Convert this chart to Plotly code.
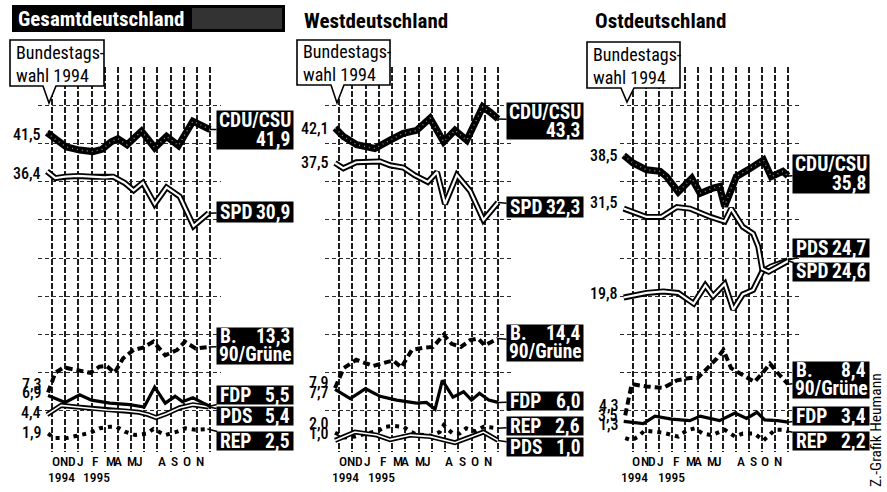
import plotly.graph_objects as go

W, H = 887, 492
FN = "Roboto, Open Sans, Liberation Sans, sans-serif"

# ---------------- data ----------------
panel_titles = ["Gesamtdeutschland", "Westdeutschland", "Ostdeutschland"]
month_labels = ["O", "N", "D", "J", "F", "M", "A", "M", "J", "A", "S", "O", "N"]
year_labels = ["1994", "1995"]
callout_lines = ["Bundestags-", "wahl 1994"]
credit_text = "Z.-Grafik Heumann"

# Gesamtdeutschland
ges_cdu_x = [-0.38, 0.4, 1.1, 2.1, 3.1, 3.8, 4.5, 5.0, 5.7, 6.8, 7.8, 8.7, 9.6, 10.7, 11.3, 12.0]
ges_cdu_y = [41.5, 40.4, 39.6, 39.2, 39.0, 39.3, 40.3, 40.7, 39.9, 41.7, 39.5, 41.0, 39.8, 43.0, 42.5, 41.9]
ges_spd_x = [-0.38, 0.25, 1.0, 2.0, 3.0, 4.0, 4.65, 5.5, 6.2, 6.9, 7.8, 8.7, 9.7, 10.75, 11.9]
ges_spd_y = [36.4, 35.5, 35.7, 35.8, 35.7, 35.6, 35.7, 34.9, 33.9, 34.9, 32.1, 34.3, 33.1, 29.2, 30.9]
ges_gruene_x = [-0.3, 0.25, 0.9, 1.9, 2.9, 3.6, 4.15, 4.75, 5.4, 6.2, 6.9, 7.7, 8.6, 9.5, 10.1, 10.9, 11.9]
ges_gruene_y = [7.3, 9.9, 10.6, 10.2, 9.9, 10.7, 10.8, 9.9, 11.8, 12.9, 13.2, 14.0, 12.2, 12.9, 14.0, 13.1, 13.3]
ges_fdp_x = [-0.3, 1.0, 2.1, 3.0, 4.4, 5.9, 7.0, 7.8, 8.6, 9.35, 9.9, 10.7, 11.5, 12.0]
ges_fdp_y = [6.9, 6.0, 7.0, 6.3, 5.9, 5.7, 5.4, 8.0, 5.9, 6.8, 6.1, 6.6, 5.9, 5.5]
ges_pds_x = [-0.38, 0.7, 1.9, 3.0, 4.2, 5.5, 6.6, 7.3, 7.9, 8.7, 9.7, 10.7, 11.9]
ges_pds_y = [4.4, 5.6, 5.4, 5.2, 5.0, 4.9, 4.7, 4.4, 4.0, 4.5, 5.3, 5.7, 5.4]
ges_rep_x = [-0.3, 0.2, 1.1, 2.0, 2.9, 3.65, 4.4, 4.9, 5.55, 6.3, 7.2, 7.7, 8.6, 9.5, 10.1, 10.9, 11.8]
ges_rep_y = [1.9, 1.3, 1.3, 1.7, 2.0, 2.6, 2.8, 2.8, 2.15, 1.7, 1.9, 2.5, 1.7, 2.15, 2.6, 2.4, 2.5]

# Westdeutschland
west_cdu_x = [-0.3, 0.33, 1.33, 2.7, 3.85, 4.85, 5.86, 6.87, 7.9, 8.75, 9.64, 10.85, 11.4, 12.0]
west_cdu_y = [42.1, 41.0, 39.9, 39.4, 40.5, 41.4, 41.8, 43.4, 40.3, 41.8, 40.5, 44.9, 44.2, 43.3]
west_spd_x = [-0.3, 0.33, 1.3, 3.1, 3.85, 4.85, 5.7, 6.7, 7.4, 8.0, 8.9, 9.9, 10.9, 12.0]
west_spd_y = [37.5, 36.8, 37.6, 37.7, 37.2, 36.9, 35.9, 35.0, 36.3, 32.1, 35.9, 33.8, 30.0, 32.3]
west_gruene_x = [-0.3, 0.35, 1.3, 2.0, 2.6, 3.6, 4.1, 4.7, 5.5, 6.4, 7.1, 7.9, 8.5, 9.2, 9.9, 10.5, 11.0, 12.0]
west_gruene_y = [7.9, 10.5, 11.6, 11.1, 10.8, 11.3, 11.5, 10.6, 12.9, 13.2, 13.3, 14.9, 13.7, 13.3, 14.2, 14.4, 13.5, 14.4]
west_fdp_x = [-0.3, 0.85, 2.0, 3.1, 4.35, 5.85, 6.6, 7.25, 7.8, 8.6, 9.4, 10.0, 10.6, 11.3, 12.0]
west_fdp_y = [7.7, 6.5, 7.8, 6.8, 6.3, 5.9, 6.0, 5.1, 8.9, 6.7, 7.4, 6.3, 7.2, 6.3, 6.0]
west_rep_x = [-0.3, 0.4, 1.2, 2.1, 3.0, 3.5, 4.1, 4.85, 5.4, 5.85, 6.4, 7.0, 7.6, 7.9, 8.25, 8.6, 9.1, 9.6, 10.3, 10.9, 11.5, 12.0]
west_rep_y = [2.0, 1.4, 1.5, 1.9, 2.3, 2.8, 2.9, 2.8, 2.15, 1.8, 1.7, 1.6, 2.1, 3.0, 2.4, 1.9, 1.9, 2.6, 2.2, 2.8, 2.7, 2.6]
west_pds_x = [-0.3, 1.2, 2.85, 3.85, 5.4, 6.9, 8.75, 9.9, 10.9, 12.0]
west_pds_y = [1.0, 2.1, 1.7, 1.1, 1.7, 1.5, 0.7, 1.5, 2.1, 1.0]

# Ostdeutschland
ost_cdu_x = [-0.72, 0.0, 1.05, 2.1, 2.6, 3.5, 4.55, 5.2, 6.2, 6.7, 7.1, 7.6, 8.0, 8.9, 10.1, 10.7, 11.6, 12.0]
ost_cdu_y = [38.5, 37.5, 36.6, 36.4, 35.7, 33.7, 35.5, 33.5, 34.2, 34.4, 31.8, 34.2, 35.7, 36.6, 37.9, 35.7, 36.4, 35.8]
ost_spd_x = [-0.72, 0.3, 1.05, 2.2, 3.4, 4.4, 5.2, 6.0, 7.1, 7.6, 8.5, 9.3, 9.7, 10.0, 10.5, 11.3, 12.0]
ost_spd_y = [31.5, 30.9, 30.4, 30.4, 31.7, 31.5, 30.9, 30.4, 29.8, 31.5, 29.1, 28.2, 26.5, 23.6, 23.2, 24.0, 24.6]
ost_pds_x = [-0.72, 1.05, 2.35, 3.5, 4.7, 5.6, 6.2, 7.1, 7.76, 8.5, 9.3, 10.0, 10.7, 12.0]
ost_pds_y = [19.8, 20.4, 20.6, 20.4, 19.0, 21.4, 20.0, 21.6, 18.2, 20.2, 20.8, 23.2, 23.9, 24.7]
ost_gruene_x = [-0.6, -0.1, 1.05, 2.35, 3.4, 4.4, 5.0, 5.8, 6.5, 7.0, 7.6, 8.5, 9.4, 10.0, 10.6, 11.25, 12.0]
ost_gruene_y = [4.3, 8.4, 8.1, 7.9, 8.9, 9.2, 9.2, 10.5, 11.8, 12.9, 10.5, 9.6, 8.7, 9.8, 11.1, 9.8, 8.4]
ost_fdp_x = [-0.72, 0.8, 1.7, 3.0, 4.4, 5.2, 6.7, 7.9, 8.8, 9.6, 10.2, 11.2, 12.0]
ost_fdp_y = [3.5, 3.2, 4.2, 3.8, 3.6, 4.2, 3.6, 4.6, 3.9, 4.7, 3.7, 3.6, 3.4]
ost_rep_x = [-0.6, -0.1, 0.4, 0.9, 2.35, 3.0, 3.5, 4.15, 4.8, 5.4, 6.1, 7.1, 7.9, 8.5, 9.4, 10.1, 11.0, 11.6, 12.0]
ost_rep_y = [1.3, 1.0, 1.5, 2.3, 2.0, 1.7, 1.5, 2.3, 2.6, 1.9, 1.7, 2.4, 1.5, 1.9, 1.9, 1.0, 2.4, 2.4, 2.2]

series = {
    1: {"cdu": (ges_cdu_x, ges_cdu_y), "spd": (ges_spd_x, ges_spd_y), "gruene": (ges_gruene_x, ges_gruene_y),
        "fdp": (ges_fdp_x, ges_fdp_y), "pds": (ges_pds_x, ges_pds_y), "rep": (ges_rep_x, ges_rep_y)},
    2: {"cdu": (west_cdu_x, west_cdu_y), "spd": (west_spd_x, west_spd_y), "gruene": (west_gruene_x, west_gruene_y),
        "fdp": (west_fdp_x, west_fdp_y), "pds": (west_pds_x, west_pds_y), "rep": (west_rep_x, west_rep_y)},
    3: {"cdu": (ost_cdu_x, ost_cdu_y), "spd": (ost_spd_x, ost_spd_y), "gruene": (ost_gruene_x, ost_gruene_y),
        "fdp": (ost_fdp_x, ost_fdp_y), "pds": (ost_pds_x, ost_pds_y), "rep": (ost_rep_x, ost_rep_y)},
}
party_names = {"cdu": "CDU/CSU", "spd": "SPD", "gruene": ("B.", "90/Grüne"), "fdp": "FDP", "pds": "PDS", "rep": "REP"}


# ---------------- helpers ----------------
def PX(x):
    return x / W


def PY(y):
    return 1 - y / H


def de(v):
    return f"{v:.1f}".replace(".", ",")


def C(t):
    return f"<span style='font-stretch:condensed'>{t}</span>"


panels = [
    dict(n=1, xdom=(38, 221), xr=(-1.063, 12.835), lx=15.42),
    dict(n=2, xdom=(325, 511), xr=(-1.057, 12.98), lx=15.55),
    dict(n=3, xdom=(620, 801), xr=(-1.006, 13.006), lx=15.33),
]
YR = (-0.526, 50.13)
YDOM = (PY(452), PY(67))

thin_double = [dict(color="black", width=5), dict(color="white", width=1.6)]
wide_double = [dict(color="black", width=6), dict(color="white", width=2.2)]
styles = {
    "cdu": [dict(color="black", width=7), dict(color="#8c8c8c", width=1.4, dash="1px,4px")],
    "spd": wide_double,
    "gruene": [dict(color="black", width=4, dash="7px,4px")],
    "fdp": [dict(color="black", width=3.2)],
    "pds": thin_double,
    "rep": [dict(color="black", width=4, dash="4px,5px")],
}
draw_order = ["rep", "gruene", "pds", "fdp", "spd", "cdu"]

# end label boxes: (key, kind, centre value, height px)
end_labels = {
    1: [("cdu", "stack", 41.85, 38), ("spd", "single", 31.05, 20), ("gruene", "gruene", 13.45, 36),
        ("fdp", "single", 6.97, 18), ("pds", "single", 4.21, 18), ("rep", "single", 0.92, 18)],
    2: [("cdu", "stack", 43.0, 36), ("spd", "single", 31.7, 20), ("gruene", "gruene", 13.85, 36),
        ("fdp", "single", 6.18, 18), ("rep", "single", 2.89, 18), ("pds", "single", 0.07, 18)],
    3: [("cdu", "stack", 36.05, 38), ("pds", "single", 26.3, 18), ("spd", "single", 23.16, 18),
        ("gruene", "gruene", 8.98, 36), ("fdp", "single", 4.21, 18), ("rep", "single", 0.92, 18)],
}
# start value labels: (key, yshift px)
start_labels = {
    1: [("cdu", -2), ("spd", -2), ("gruene", 8), ("fdp", 3), ("pds", 2), ("rep", 1)],
    2: [("cdu", 0), ("spd", 0), ("gruene", 5), ("fdp", -3), ("rep", 9), ("pds", 7)],
    3: [("cdu", 0), ("spd", 6), ("pds", 4), ("gruene", 10), ("fdp", 6), ("rep", 14)],
}
month_pos = [0.27, 0.91, 1.49, 2.16, 3.34, 4.48, 5.01, 6.08, 6.65, 8.33, 9.3, 10.25, 11.24]
year_pos = {1: [0.73, 3.4], 2: [0.5, 3.2], 3: [0.15, 3.0]}
callouts = {1: (10, 104, 40, 86, 43, 56, 49, 103), 2: (297, 390, 40, 85, 331, 344, 337, 103),
            3: (587, 680, 42, 88, 621, 634, 627, 102)}

fig = go.Figure()
annotations = []
shapes = []
layout = dict(width=W, height=H, margin=dict(l=0, r=0, t=0, b=0), showlegend=False,
              paper_bgcolor="white", plot_bgcolor="rgba(0,0,0,0)")

for p in panels:
    n = p["n"]
    sfx = "" if n == 1 else str(n)
    xr_, yr_ = "x" + sfx, "y" + sfx
    layout["xaxis" + sfx] = dict(domain=[PX(p["xdom"][0]), PX(p["xdom"][1])], range=list(p["xr"]),
                                 anchor=yr_, tickvals=list(range(13)), showticklabels=False,
                                 showgrid=True, gridcolor="#1e1e1e", gridwidth=1.7, griddash="6px,2px",
                                 zeroline=False, showline=False, ticks="", fixedrange=True)
    layout["yaxis" + sfx] = dict(domain=list(YDOM), range=list(YR), anchor=xr_,
                                 tickvals=[5, 10, 15, 20, 25, 30, 35, 40, 45], showticklabels=False,
                                 showgrid=True, gridcolor="#2a2a2a", gridwidth=1.3, griddash="4px,3px",
                                 zeroline=False, showline=False, ticks="", fixedrange=True)
    for key in draw_order:
        xs, ys = series[n][key]
        st = styles[key]
        if n == 3 and key == "pds":
            st = wide_double
        for ln in st:
            fig.add_trace(go.Scatter(x=xs, y=ys, mode="lines", line=dict(shape="linear", **ln),
                                     xaxis=xr_, yaxis=yr_, hoverinfo="skip"))

    # start labels
    for key, ysh in start_labels[n]:
        xs, ys = series[n][key]
        annotations.append(dict(x=xs[0], y=ys[0], xref=xr_, yref=yr_, text=C(de(ys[0])), showarrow=False,
                                xanchor="right", yanchor="middle", align="right", xshift=-4, yshift=ysh,
                                font=dict(family=FN, size=16, color="black", weight=500)))

    # end label boxes
    for key, kind, cy, h in end_labels[n]:
        xs, ys = series[n][key]
        base = dict(x=xs[-1], y=ys[-1], xref=xr_, yref=yr_, ax=p["lx"], ay=cy, axref=xr_, ayref=yr_,
                    showarrow=True, arrowhead=0)
        annotations.append(dict(base, text="&nbsp;", width=76, height=h, bgcolor="black", borderpad=0,
                                arrowcolor="black", arrowwidth=1.5, standoff=0))
        inv = dict(base, arrowcolor="rgba(0,0,0,0)", arrowwidth=0.1)
        f = dict(family=FN, size=19.5, color="white", weight="bold")
        val = C(de(ys[-1]))
        if kind == "single":
            annotations.append(dict(inv, text=C(party_names[key]), xanchor="left", align="left", xshift=-37, font=f))
            annotations.append(dict(inv, text=val, xanchor="right", align="right", xshift=37, font=f))
        elif kind == "stack":
            annotations.append(dict(inv, text=C(party_names[key]), xanchor="center", yshift=h / 4, font=f))
            annotations.append(dict(inv, text=val, xanchor="right", align="right", xshift=37, yshift=-h / 4, font=f))
        else:
            top, bottom = party_names[key]
            annotations.append(dict(inv, text=C(top), xanchor="left", align="left", xshift=-37, yshift=h / 4, font=f))
            annotations.append(dict(inv, text=val, xanchor="right", align="right", xshift=37, yshift=h / 4, font=f))
            annotations.append(dict(inv, text=C(bottom), xanchor="center", yshift=-h / 4, font=f))

    # month + year labels
    for lab, mx in zip(month_labels, month_pos):
        annotations.append(dict(x=mx, y=PY(461), xref=xr_, yref="paper", text=C(lab), showarrow=False,
                                xanchor="center", yanchor="middle",
                                font=dict(family=FN, size=13.5, color="black", weight=500)))
    for lab, mx in zip(year_labels, year_pos[n]):
        annotations.append(dict(x=mx, y=PY(477), xref=xr_, yref="paper", text=C(lab), showarrow=False,
                                xanchor="center", yanchor="middle",
                                font=dict(family=FN, size=13.5, color="black", weight=500)))

    # callout
    L, R, T, B, b1, b2, tx, ty = callouts[n]
    path = (f"M {PX(L)} {PY(T)} L {PX(R)} {PY(T)} L {PX(R)} {PY(B)} L {PX(b2)} {PY(B)} "
            f"L {PX(tx)} {PY(ty)} L {PX(b1)} {PY(B)} L {PX(L)} {PY(B)} Z")
    shapes.append(dict(type="path", path=path, xref="paper", yref="paper", fillcolor="white",
                       line=dict(color="black", width=1.6), layer="above"))
    annotations.append(dict(x=PX(L + 4), y=PY((T + B) / 2 + 1), xref="paper", yref="paper",
                            text="<br>".join(C(t) for t in callout_lines),
                            showarrow=False, xanchor="left", yanchor="middle", align="left",
                            font=dict(family=FN, size=18, color="black")))

# titles
shapes.append(dict(type="rect", x0=PX(12), x1=PX(285), y0=PY(5), y1=PY(32), xref="paper", yref="paper",
                   fillcolor="black", line=dict(width=0), layer="above"))
shapes.append(dict(type="rect", x0=PX(192), x1=PX(282), y0=PY(8), y1=PY(29), xref="paper", yref="paper",
                   fillcolor="#333333", line=dict(width=0), layer="above"))
tf = dict(family=FN, size=21, weight="bold")
annotations.append(dict(x=PX(16), y=PY(19), xref="paper", yref="paper", text=C(panel_titles[0]), showarrow=False,
                        xanchor="left", align="left", yanchor="middle", font=dict(tf, color="white")))
annotations.append(dict(x=PX(302), y=PY(21), xref="paper", yref="paper", text=C(panel_titles[1]), showarrow=False,
                        xanchor="left", align="left", yanchor="middle", font=dict(tf, color="black")))
annotations.append(dict(x=PX(593), y=PY(21), xref="paper", yref="paper", text=C(panel_titles[2]), showarrow=False,
                        xanchor="left", align="left", yanchor="middle", font=dict(tf, color="black")))
annotations.append(dict(x=PX(876), y=PY(430), xref="paper", yref="paper", text=C(credit_text), showarrow=False,
                        textangle=-90, xanchor="center", yanchor="middle", font=dict(family=FN, size=15.5, color="black")))

layout["annotations"] = annotations
layout["shapes"] = shapes
fig.update_layout(**layout)
fig.write_html("out.html", config={"displayModeBar": False},
               post_script="document.body.style.margin='0px';document.body.style.overflow='hidden';")
